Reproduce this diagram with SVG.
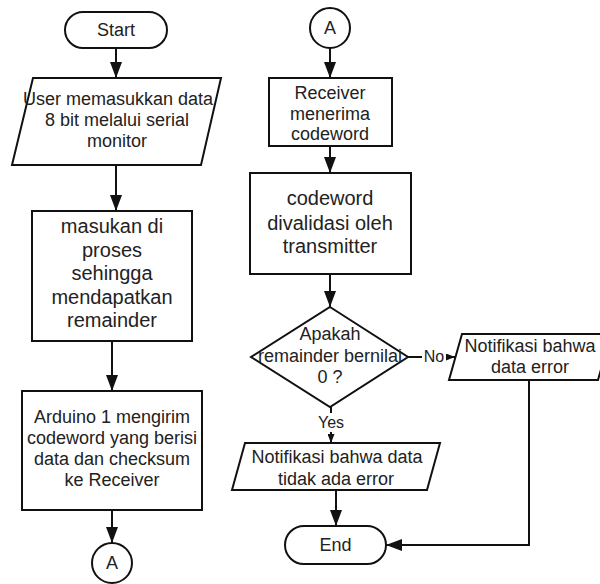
<svg xmlns="http://www.w3.org/2000/svg" width="600" height="584" viewBox="0 0 600 584">
<defs>
<style>
.s{fill:#fff;stroke:#111;stroke-width:2}
.t{font-family:"Liberation Sans",Arial,sans-serif;font-size:18px;fill:#222;text-anchor:middle}
.t20{font-size:20px}
.lb{font-family:"Liberation Sans",Arial,sans-serif;font-size:16px;fill:#222;text-anchor:middle}
.c{fill:none;stroke:#111;stroke-width:2}
</style>
<marker id="ah" markerUnits="userSpaceOnUse" markerWidth="16" markerHeight="12" refX="16" refY="6" orient="auto">
<path d="M0,0 L16,6 L0,12 Z" fill="#111"/>
</marker>
<marker id="as" markerUnits="userSpaceOnUse" markerWidth="9" markerHeight="7" refX="9" refY="3.5" orient="auto">
<path d="M0,0 L9,3.5 L0,7 Z" fill="#111"/>
</marker>
</defs>
<rect width="600" height="584" fill="#fff"/>
<g id="connectors">
<line class="c" x1="116" y1="48" x2="116" y2="78" marker-end="url(#ah)"/>
<line class="c" x1="116" y1="165" x2="116" y2="211" marker-end="url(#ah)"/>
<line class="c" x1="112" y1="341" x2="112" y2="391" marker-end="url(#ah)"/>
<line class="c" x1="112" y1="510" x2="112" y2="543" marker-end="url(#ah)"/>
<line class="c" x1="330" y1="48" x2="330" y2="78" marker-end="url(#ah)"/>
<line class="c" x1="330" y1="146" x2="330" y2="173" marker-end="url(#ah)"/>
<line class="c" x1="330" y1="274" x2="330" y2="307" marker-end="url(#ah)"/>
<line class="c" x1="407" y1="357" x2="455" y2="357" marker-end="url(#as)"/>
<line class="c" x1="331" y1="407" x2="331" y2="443" marker-end="url(#as)"/>
<line class="c" x1="336" y1="490" x2="336" y2="526" marker-end="url(#ah)"/>
<polyline class="c" points="529,380 529,545 386,545" marker-end="url(#ah)"/>
<rect x="422" y="346" width="24" height="20" fill="#fff"/>
<text class="lb" x="434" y="362">No</text>
<rect x="316" y="413" width="30" height="19" fill="#fff"/>
<text class="lb" x="331" y="428">Yes</text>
</g>
<g id="start">
<rect class="s" x="65" y="12" width="102" height="36" rx="18"/>
<text class="t" x="116" y="36">Start</text>
</g>
<g id="input">
<polygon class="s" points="33,78 221,78 201,165 12,165"/>
<text class="t" x="118" y="105">User memasukkan data</text>
<text class="t" x="117" y="126">8 bit melalui serial</text>
<text class="t" x="117" y="147">monitor</text>
</g>
<g id="process">
<rect class="s" x="32" y="211" width="160" height="130"/>
<text class="t t20" x="112" y="233">masukan di</text>
<text class="t t20" x="112" y="257">proses</text>
<text class="t t20" x="112" y="280">sehingga</text>
<text class="t t20" x="112" y="304">mendapatkan</text>
<text class="t t20" x="112" y="327">remainder</text>
</g>
<g id="send">
<rect class="s" x="22" y="391" width="180" height="119"/>
<text class="t" x="112" y="423">Arduino 1 mengirim</text>
<text class="t" x="112" y="444">codeword yang berisi</text>
<text class="t" x="112" y="465">data dan checksum</text>
<text class="t" x="112" y="486">ke Receiver</text>
</g>
<g id="connA1">
<circle class="s" cx="112" cy="563" r="20"/>
<text class="t" x="112" y="569">A</text>
</g>
<g id="connA2">
<circle class="s" cx="330" cy="28" r="20"/>
<text class="t" x="330" y="34">A</text>
</g>
<g id="receive">
<rect class="s" x="269" y="78" width="123" height="68"/>
<text class="t" x="330" y="99">Receiver</text>
<text class="t" x="330" y="120">menerima</text>
<text class="t" x="330" y="140">codeword</text>
</g>
<g id="validate">
<rect class="s" x="250" y="173" width="161" height="101"/>
<text class="t t20" x="330" y="205">codeword</text>
<text class="t t20" x="330" y="230">divalidasi oleh</text>
<text class="t t20" x="330" y="253">transmitter</text>
</g>
<g id="decision">
<polygon class="s" points="330,307 408,357 330,407 251,357"/>
<text class="t" x="330" y="340">Apakah</text>
<text class="t" x="330" y="362">remainder bernilai</text>
<text class="t" x="330" y="383">0 ?</text>
</g>
<g id="error">
<polygon class="s" points="462,334 611,334 598,380 449,380"/>
<text class="t" x="530" y="352">Notifikasi bahwa</text>
<text class="t" x="530" y="373">data error</text>
</g>
<g id="noerror">
<polygon class="s" points="245,443 440,443 427,490 232,490"/>
<text class="t" x="337" y="463">Notifikasi bahwa data</text>
<text class="t" x="336" y="485">tidak ada error</text>
</g>
<g id="end">
<rect class="s" x="285" y="526" width="101" height="38" rx="19"/>
<text class="t" x="335.5" y="551">End</text>
</g>
</svg>
